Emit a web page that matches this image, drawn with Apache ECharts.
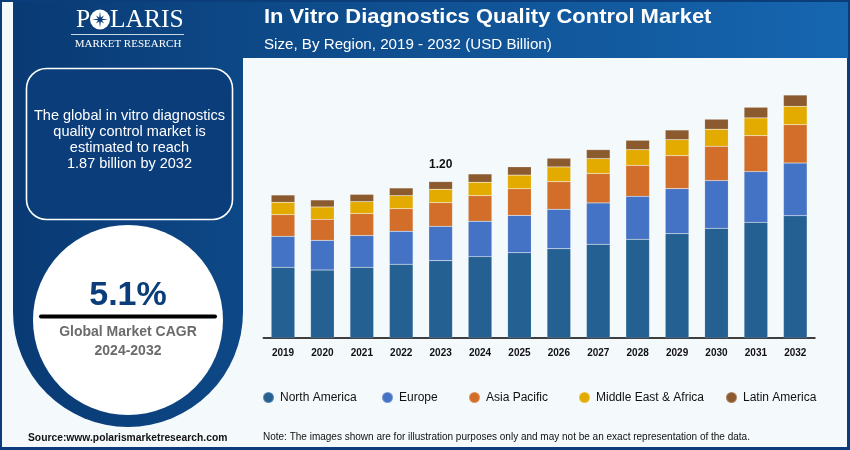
<!DOCTYPE html>
<html>
<head>
<meta charset="utf-8">
<style>
  html, body { margin: 0; padding: 0; background: #f4f9fc; }
  #main { width: 850px; height: 450px; }
</style>
<script src="https://cdn.jsdelivr.net/npm/echarts@6/dist/echarts.min.js"></script>
</head>
<body>
<div id="main"></div>
<script>
// values (USD billion)
var years = ['2019','2020','2021','2022','2023','2024','2025','2026','2027','2028','2029','2030','2031','2032'];
var northAmerica = [0.544,0.523,0.544,0.567,0.595,0.626,0.656,0.687,0.721,0.759,0.803,0.844,0.890,0.941];
var europe = [0.238,0.228,0.244,0.254,0.264,0.272,0.287,0.303,0.318,0.331,0.346,0.367,0.390,0.405];
var asiaPacific = [0.167,0.162,0.169,0.174,0.182,0.197,0.205,0.213,0.226,0.238,0.254,0.264,0.277,0.295];
var middleEast = [0.095,0.095,0.092,0.100,0.103,0.103,0.105,0.113,0.115,0.121,0.123,0.131,0.136,0.141];
var latinAmerica = [0.056,0.054,0.056,0.059,0.059,0.064,0.064,0.067,0.069,0.072,0.074,0.077,0.082,0.087];
var regionNames = ['North America','Europe','Asia Pacific','Middle East & Africa','Latin America'];
var regionColors = ['#246092','#4472c4','#d26e2a','#e3aa00','#8b5a2e'];
var legendLeft = [262,381,468,578,725];
var labelledYear = '2023';
var labelledText = '1.20';

var FONT = '"Liberation Sans", Arial, sans-serif';
var SERIF = '"Liberation Serif", serif';
var NAVY = '#0a3d7a';

var chart = echarts.init(document.getElementById('main'));

function makeSeries(name, values, color) {
    return {
        name: name,
        type: 'bar',
        stack: 'total',
        barWidth: '60%',
        data: values,
        itemStyle: { color: color, borderColor: 'rgba(255,255,255,0.25)', borderWidth: 0.5 },
        z: 3
    };
}

var seriesValues = [northAmerica, europe, asiaPacific, middleEast, latinAmerica];
var series = regionNames.map(function (n, i) { return makeSeries(n, seriesValues[i], regionColors[i]); });

// only one total is printed on the chart, it sits on the top segment
series[4].data = latinAmerica.map(function (v, i) {
    if (years[i] !== labelledYear) return v;
    return {
        value: v,
        label: {
            show: true, position: 'top', distance: 11,
            formatter: labelledText,
            fontFamily: FONT, fontSize: 12, fontWeight: 'bold', color: '#111'
        }
    };
});

var legends = regionNames.map(function (n, i) {
    return {
        data: [n], left: legendLeft[i], top: 391,
        icon: 'circle', itemWidth: 11, itemHeight: 11, itemGap: 0,
        selectedMode: false,
        textStyle: { fontFamily: FONT, fontSize: 12, color: '#111', padding: [0, 0, 0, 1] },
        padding: 0
    };
});

function txt(x, y, text, size, color, weight, extra) {
    var style = {
        x: x, y: y, text: text, fontFamily: FONT, fontSize: size,
        fill: color, fontWeight: weight || 'normal',
        align: 'center', verticalAlign: 'middle'
    };
    for (var k in extra) style[k] = extra[k];
    return { type: 'text', silent: true, style: style };
}

// eight pointed star of the logo
function starPoints(cx, cy, r1, r2) {
    var pts = [];
    for (var i = 0; i < 16; i++) {
        var a = i * Math.PI / 8;
        var r = i % 2 ? r2 : (i % 4 ? r1 * 0.7 : r1);
        pts.push([cx + Math.sin(a) * r, cy - Math.cos(a) * r]);
    }
    return pts;
}

function panelFill() {
    return new echarts.graphic.LinearGradient(0, 0, 1, 0, [{ offset: 0, color: '#093a74' }, { offset: 1, color: '#0d4886' }]);
}

// the title in the picture is set wider than the font, so it is stretched
var titleText = txt(0, 0, 'In Vitro Diagnostics Quality Control Market', 20, '#fff', 'bold', { align: 'left' });
titleText.x = 264;
titleText.y = 17;
titleText.scaleX = 1.098;

var graphics = [
    // frame
    { type: 'rect', z: -10, silent: true, shape: { x: 0, y: 0, width: 850, height: 450 }, style: { fill: NAVY } },
    // header band
    { type: 'rect', z: -9, silent: true, shape: { x: 243, y: 2, width: 605, height: 56 },
      style: { fill: new echarts.graphic.LinearGradient(0, 0, 1, 0, [{ offset: 0, color: '#0d4886' }, { offset: 1, color: '#1666b0' }]) } },
    // page background
    { type: 'rect', z: -9, silent: true, shape: { x: 2, y: 2, width: 11, height: 444 }, style: { fill: '#f4f9fc' } },
    { type: 'rect', z: -9, silent: true, shape: { x: 243, y: 58, width: 604, height: 389 }, style: { fill: '#f4f9fc' } },
    { type: 'rect', z: -9, silent: true, shape: { x: 2, y: 312, width: 242, height: 135 }, style: { fill: '#f4f9fc' } },
    // left panel with rounded bottom
    { type: 'rect', z: -8, silent: true, shape: { x: 13, y: 2, width: 230, height: 310 }, style: { fill: panelFill() } },
    { type: 'circle', z: -8, silent: true, shape: { cx: 128, cy: 312, r: 115 }, style: { fill: panelFill() } },
    { type: 'circle', z: -7, silent: true, shape: { cx: 128, cy: 320, r: 95 }, style: { fill: '#ffffff' } },
    // message box
    { type: 'rect', z: -7, silent: true, shape: { x: 26.5, y: 68.5, width: 206, height: 151, r: 20 },
      style: { fill: NAVY, stroke: '#ffffff', lineWidth: 1.6 } },
    txt(129.5, 115.5, 'The global in vitro diagnostics', 14.5, '#fff'),
    txt(129.5, 131.5, 'quality control market is', 14.5, '#fff'),
    txt(129.5, 147.5, 'estimated to reach', 14.5, '#fff'),
    txt(129.5, 163.5, '1.87 billion by 2032', 14.5, '#fff'),
    // CAGR
    txt(128, 296, '5.1%', 34, NAVY, 'bold'),
    { type: 'line', z: 1, silent: true, shape: { x1: 41, y1: 316.5, x2: 215, y2: 316.5 },
      style: { stroke: '#000', lineWidth: 4, lineCap: 'round' } },
    txt(128, 332, 'Global Market CAGR', 14, '#6b6b6b', 'bold'),
    txt(128, 351, '2024-2032', 14, '#6b6b6b', 'bold'),
    // logo
    txt(76, 20, 'P', 25.5, '#fff', 'normal', { fontFamily: SERIF, align: 'left' }),
    { type: 'circle', silent: true, shape: { cx: 100, cy: 19.5, r: 10 }, style: { fill: '#fff' } },
    { type: 'polygon', silent: true, shape: { points: starPoints(100, 19.5, 8, 2.2) }, style: { fill: NAVY } },
    txt(110, 20, 'LARIS', 25.5, '#fff', 'normal', { fontFamily: SERIF, align: 'left' }),
    { type: 'line', silent: true, shape: { x1: 71, y1: 34.5, x2: 184, y2: 34.5 }, style: { stroke: '#c9d6e6', lineWidth: 1 } },
    txt(128, 44, 'MARKET RESEARCH', 11, '#fff', 'normal', { fontFamily: SERIF }),
    // header text
    titleText,
    txt(264, 45, 'Size, By Region, 2019 - 2032 (USD Billion)', 15.15, '#fff', 'normal', { align: 'left' }),
    // footers
    txt(28, 438, 'Source:www.polarismarketresearch.com', 10.3, '#111', 'bold', { align: 'left' }),
    txt(263, 437, 'Note: The images shown are for illustration purposes only and may not be an exact representation of the data.', 10, '#111', 'normal', { align: 'left' })
];

var option = {
    animation: false,
    textStyle: { fontFamily: FONT },
    legend: legends,
    grid: { left: 263.3, right: 35, top: 78, bottom: 112 },
    xAxis: {
        type: 'category',
        data: years,
        axisLine: { lineStyle: { color: '#000', width: 1.5 } },
        axisTick: { show: false },
        axisLabel: { fontFamily: FONT, fontSize: 10, fontWeight: 'bold', color: '#111', margin: 10 }
    },
    yAxis: { type: 'value', min: 0, max: 2, show: false, splitLine: { show: false } },
    series: series,
    graphic: graphics
};

chart.setOption(option);
</script>
</body>
</html>
